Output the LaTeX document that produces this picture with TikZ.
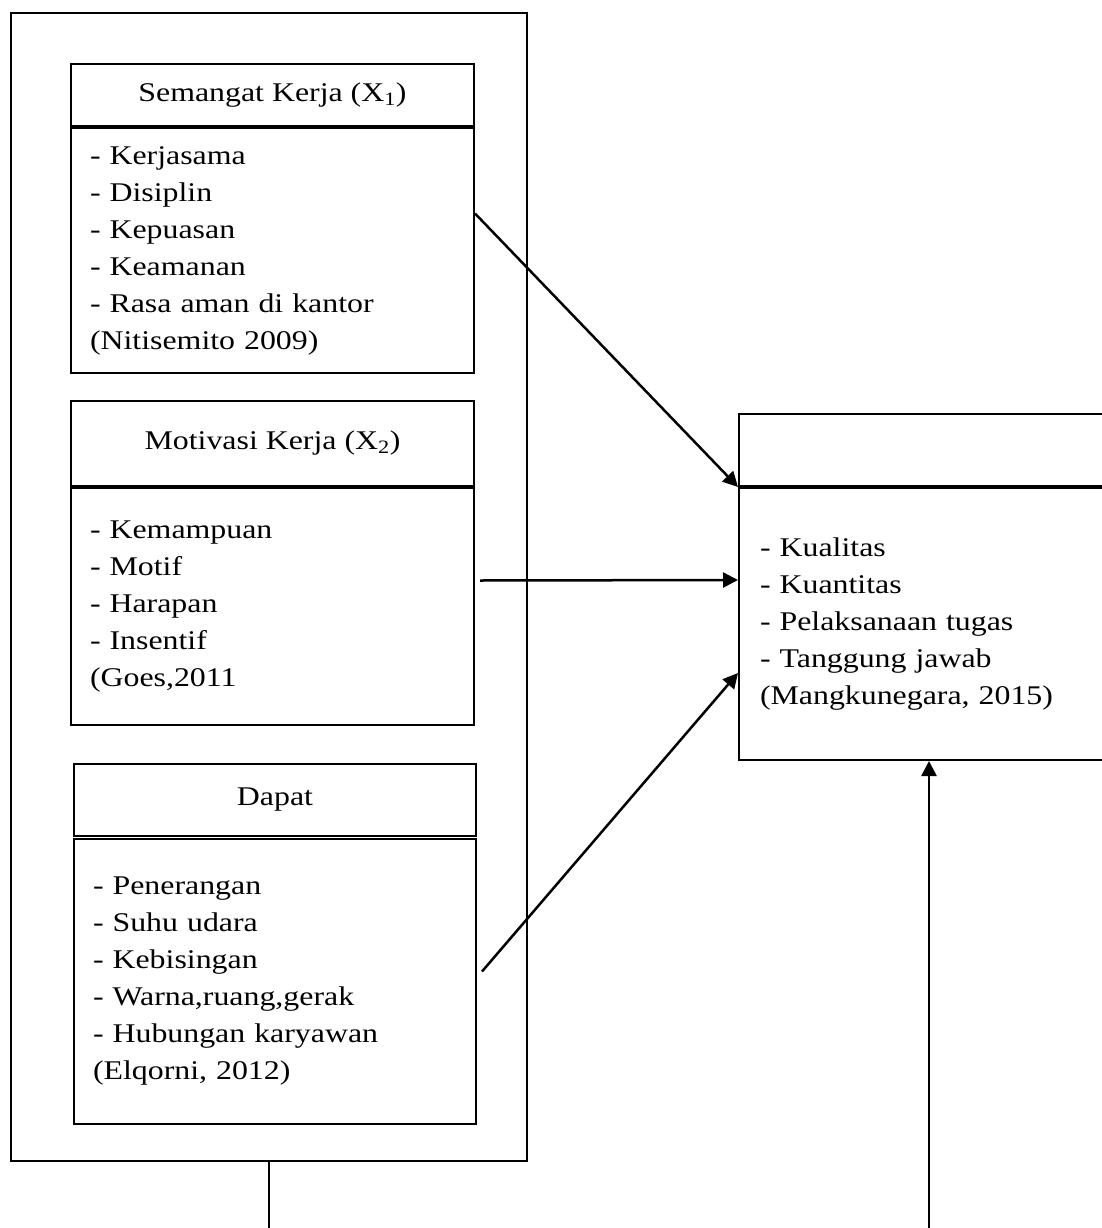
\documentclass[tikz,border=0pt]{standalone}
\usepackage{fontspec}
\setmainfont{Liberation Serif}[FakeStretch=1.18]
\usetikzlibrary{arrows.meta}
\begin{document}
\begin{tikzpicture}[x=1pt,y=-1pt,
        box/.style={draw,line width=2pt,anchor=north west,inner sep=0pt},
        head/.style={box,align=center},
        body/.style={box,align=left,inner xsep=19pt},
        link/.style={line width=2.5pt,-{Triangle[length=15pt,width=15pt]}},
        font=\fontsize{27}{37}\selectfont]
        \useasboundingbox (0,0) rectangle (1102,1228);
        % left frame
        \node[box,minimum width=516pt,minimum height=1148pt] (outer) at (10,12) {};
        \node[head,minimum width=403pt,minimum height=62pt] (sk) at (70,63) {Semangat Kerja (X\textsubscript{1})};
        \node[body,text width=365pt,minimum height=245pt] (skind) at (sk.south west) {- Kerjasama\\- Disiplin\\- Kepuasan\\- Keamanan\\- Rasa aman di kantor\\(Nitisemito 2009)};
        \node[head,minimum width=403pt,minimum height=85pt] (mk) at (70,400) {Motivasi Kerja (X\textsubscript{2})};
        \node[body,text width=365pt,minimum height=237pt] (mkind) at (mk.south west) {- Kemampuan\\- Motif\\- Harapan\\- Insentif\\(Goes,2011};
        \node[head,minimum width=402pt,minimum height=72pt] (dp) at (73,763) {Dapat};
        \node[body,text width=364pt,minimum height=285pt] (dpind) at (73,838) {- Penerangan\\- Suhu udara\\- Kebisingan\\- Warna,ruang,gerak\\- Hubungan karyawan\\(Elqorni, 2012)};
        % right box
        \node[head,minimum width=368pt,minimum height=72pt] (kk) at (738,413) {};
        \node[body,inner xsep=21pt,text width=326pt,minimum height=272pt] (kkind) at (kk.south west) {- Kualitas\\- Kuantitas\\- Pelaksanaan tugas\\- Tanggung jawab\\(Mangkunegara, 2015)};
        % arrows
        \draw[link] ([yshift=37pt]skind.east) -- (kkind.north west);
        \draw[link] ([xshift=5pt,yshift=26pt]mkind.east) -- ([yshift=44pt]kkind.west);
        \draw[link] ([xshift=5pt,yshift=10pt]dpind.east) -- ([yshift=-49pt]kkind.west);
        \coordinate (cutl) at (268,1228);
        \coordinate (cutr) at (929,1228);
        \draw[line width=2pt] (outer.south) -- (outer.south |- cutl);
        \draw[link] (cutr) -- (cutr |- kkind.south);
    \end{tikzpicture}
\end{document}
